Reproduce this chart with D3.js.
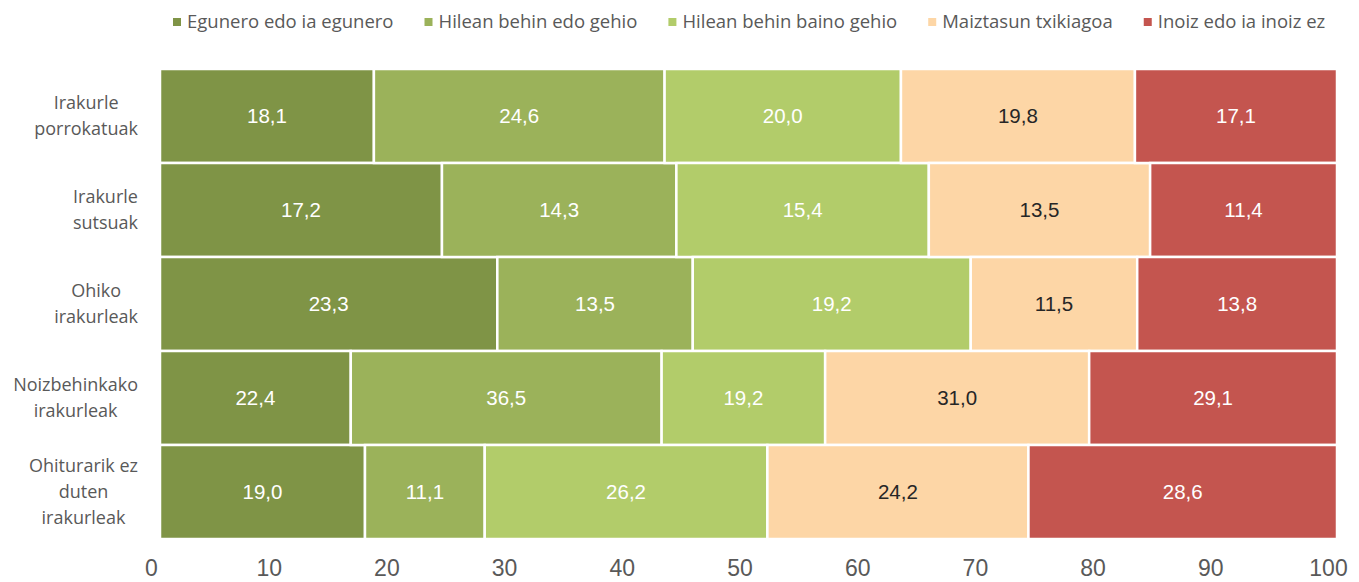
<!DOCTYPE html>
<html>
<head>
<meta charset="utf-8">
<style>
	body { margin: 0; background: #fff; }
	svg { display: block; }
</style>
<script src="https://cdn.jsdelivr.net/npm/d3@7"></script>
</head>
<body>
<div id="chart"></div>
<script>
	// Data (percent shares, normalised per row)
	const categories = ["Irakurle porrokatuak", "Irakurle sutsuak", "Ohiko irakurleak", "Noizbehinkako irakurleak", "Ohiturarik ez duten irakurleak"];
	const categoryLines = [["Irakurle", "porrokatuak"], ["Irakurle", "sutsuak"], ["Ohiko", "irakurleak"], ["Noizbehinkako", "irakurleak"], ["Ohiturarik ez", "duten", "irakurleak"]];
	const seriesNames = ["Egunero edo ia egunero", "Hilean behin edo gehio", "Hilean behin baino gehio", "Maiztasun txikiagoa", "Inoiz edo ia inoiz ez"];
	const egunero = [18.1, 17.2, 23.3, 22.4, 19.0];
	const hileanEdo = [24.6, 14.3, 13.5, 36.5, 11.1];
	const hileanBaino = [20.0, 15.4, 19.2, 19.2, 26.2];
	const maiztasun = [19.8, 13.5, 11.5, 31.0, 24.2];
	const inoiz = [17.1, 11.4, 13.8, 29.1, 28.6];
	const tickValues = [0, 10, 20, 30, 40, 50, 60, 70, 80, 90, 100];

	const colors = ["#7f9446", "#9bb25a", "#b2cc6a", "#fdd6a6", "#c4554f"];
	const labelColors = ["#fff", "#fff", "#fff", "#262626", "#fff"];

	const W = 1359, H = 582;
	const margin = {top: 69, right: 22, bottom: 43, left: 160};

	// build rows for d3.stack
	const allSeries = [egunero, hileanEdo, hileanBaino, maiztasun, inoiz];
	const rows = categories.map(function(c, i) {
		const r = {cat: c};
		seriesNames.forEach(function(s, j) { r[s] = allSeries[j][i]; });
		return r;
	});
	const stacked = d3.stack().keys(seriesNames).offset(d3.stackOffsetExpand)(rows);

	const svg = d3.select("#chart").append("svg")
		.attr("width", W)
		.attr("height", H);

	const x = d3.scaleLinear().domain([0, 100]).range([margin.left, W - margin.right]);
	const y = d3.scaleBand().domain(categories).range([margin.top, H - margin.bottom]).padding(0);

	// bars
	const groups = svg.selectAll("g.series")
		.data(stacked)
		.enter().append("g")
		.attr("class", "series")
		.attr("fill", function(d, i) { return colors[i]; });

	groups.selectAll("rect")
		.data(function(d) { return d; })
		.enter().append("rect")
		.attr("x", function(d) { return x(d[0] * 100); })
		.attr("y", function(d) { return y(d.data.cat); })
		.attr("width", function(d) { return x(d[1] * 100) - x(d[0] * 100); })
		.attr("height", y.bandwidth())
		.attr("stroke", "#fff")
		.attr("stroke-width", 2.5);

	// value labels
	groups.each(function(s, si) {
		d3.select(this).selectAll("text")
			.data(s)
			.enter().append("text")
			.attr("x", function(d) { return (x(d[0] * 100) + x(d[1] * 100)) / 2; })
			.attr("y", function(d) { return y(d.data.cat) + y.bandwidth() / 2; })
			.attr("dy", "0.35em")
			.attr("text-anchor", "middle")
			.attr("font-family", "'Liberation Sans', Arial, sans-serif")
			.attr("font-size", "20.5px")
			.attr("fill", labelColors[si])
			.text(function(d) { return d.data[s.key].toFixed(1).replace(".", ","); });
	});

	// x axis
	const xAxis = svg.append("g")
		.attr("transform", "translate(0," + (H - margin.bottom) + ")")
		.call(d3.axisBottom(x).tickValues(tickValues).tickSize(0).tickPadding(21));
	xAxis.select(".domain").remove();
	xAxis.selectAll("text")
		.attr("dx", "-9px")
		.attr("font-family", "'Liberation Sans', Arial, sans-serif")
		.attr("font-size", "23px")
		.attr("fill", "#595959");

	// category labels (lines centred, block right-aligned)
	const labelRight = 138, lineH = 26;
	categories.forEach(function(c, i) {
		const lines = categoryLines[i];
		const t = svg.append("text")
			.attr("font-family", "'Open Sans', sans-serif")
			.attr("font-size", "18px")
			.attr("fill", "#595959")
			.attr("text-anchor", "middle");
		const cy = y(c) + y.bandwidth() / 2;
		lines.forEach(function(l, k) {
			t.append("tspan")
				.attr("x", 0)
				.attr("y", cy + (k - (lines.length - 1) / 2) * lineH)
				.attr("dy", "0.35em")
				.text(l);
		});
		const w = d3.max(t.selectAll("tspan").nodes(), function(n) { return n.getComputedTextLength(); });
		t.selectAll("tspan").attr("x", labelRight - w / 2);
	});

	// legend
	const legend = svg.append("g").attr("transform", "translate(0,22)");
	let lx = 173;
	seriesNames.forEach(function(s, i) {
		legend.append("rect")
			.attr("x", lx)
			.attr("y", -4)
			.attr("width", 8)
			.attr("height", 8)
			.attr("fill", colors[i]);
		const t = legend.append("text")
			.attr("x", lx + 14)
			.attr("dy", "0.35em")
			.attr("font-family", "'Open Sans', sans-serif")
			.attr("font-size", "18.5px")
			.attr("fill", "#595959")
			.text(s);
		lx += 14 + t.node().getComputedTextLength() + 31;
	});
</script>
</body>
</html>
